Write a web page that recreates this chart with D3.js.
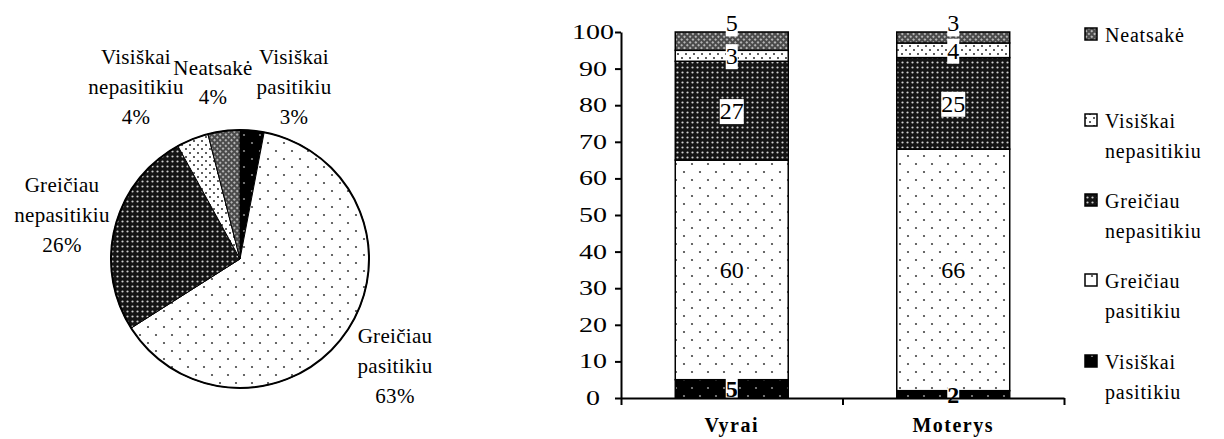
<!DOCTYPE html>
<html>
<head>
<meta charset="utf-8">
<script src="https://cdn.jsdelivr.net/npm/d3@7"></script>
<style>
    body { margin: 0; background: #fff; }
    svg text { font-family: "Liberation Serif", Tinos, "Times New Roman", "DejaVu Serif", serif; }
</style>
</head>
<body>
<div id="chart"></div>
<script>
// answer categories, stacked bottom -> top in the bars
const categories = ['Visiškai pasitikiu', 'Greičiau pasitikiu', 'Greičiau nepasitikiu', 'Visiškai nepasitikiu', 'Neatsakė'];
const pieValues = [3, 63, 26, 4, 4];
const groups = ['Vyrai', 'Moterys'];
const vyraiValues = [5, 60, 27, 3, 5];
const moterysValues = [2, 66, 25, 4, 3];
const yTicks = [0, 10, 20, 30, 40, 50, 60, 70, 80, 90, 100];

const W = 1224, H = 439;
const FONT = '"Liberation Serif", Tinos, "Times New Roman", "DejaVu Serif", serif';
const patternIds = ['pVP', 'pGP', 'pGN', 'pVN', 'pNA'];

// label block placement for the pie (relative to pie centre: x, first baseline)
const pieLabelLayout = [
    { dx: 54, dy: -195 },
    { dx: 155, dy: 84 },
    { dx: -178, dy: -67 },
    { dx: -104, dy: -195 },
    { dx: -27, dy: -184 }
];

const svg = d3.select('#chart').append('svg')
    .attr('width', W)
    .attr('height', H)
    .attr('font-family', FONT);

// ---------- fill patterns ----------
const defs = svg.append('defs');

function dotPattern(id, size, bg, dots, color, r) {
    let p = defs.append('pattern')
        .attr('id', id)
        .attr('patternUnits', 'userSpaceOnUse')
        .attr('width', size)
        .attr('height', size);
    p.append('rect').attr('width', size).attr('height', size).attr('fill', bg);
    dots.forEach(d => {
        p.append('circle').attr('cx', d[0]).attr('cy', d[1]).attr('r', r).attr('fill', color);
    });
    return p;
}

dotPattern('pVP', 16, '#000', [[4, 4], [12, 12]], '#8a8a8a', 1.1);
dotPattern('pGP', 16, '#fff', [[4, 4], [12, 12]], '#444', 1.1);
dotPattern('pGN', 5, '#141414', [[2.5, 2.5]], '#d0d0d0', 1.1);
dotPattern('pVN', 8, '#fff', [[2, 2], [6, 6]], '#2a2a2a', 1.0);
dotPattern('pNA', 4, '#4a4a4a', [[2, 2]], '#cfcfcf', 1.1)
    .attr('patternTransform', 'rotate(45)');

// ---------- pie ----------
const pieCx = 240, pieCy = 259, pieR = 129;
const pie = d3.pie().sort(null).value(d => d.value);
const arc = d3.arc().innerRadius(0).outerRadius(pieR);
const pieData = pie(categories.map((c, i) => ({ name: c, value: pieValues[i], idx: i })));

const pieG = svg.append('g').attr('transform', `translate(${ pieCx }, ${ pieCy })`);

pieG.selectAll('path.slice')
    .data(pieData)
    .enter()
    .append('path')
        .attr('class', 'slice')
        .attr('d', arc)
        .attr('fill', d => `url(#${ patternIds[d.data.idx] })`)
        .attr('stroke', '#000')
        .attr('stroke-width', 1);

pieG.append('circle')
    .attr('r', pieR)
    .attr('fill', 'none')
    .attr('stroke', '#000')
    .attr('stroke-width', 2);

pieData.forEach(d => {
    let lay = pieLabelLayout[d.data.idx];
    let lines = d.data.name.split(' ').concat([d.data.value + '%']);
    let t = pieG.append('text')
        .attr('text-anchor', 'middle')
        .attr('font-size', 21)
        .attr('letter-spacing', 0.3)
        .attr('fill', '#000');
    lines.forEach((line, i) => {
        t.append('tspan')
            .attr('x', lay.dx)
            .attr('y', lay.dy + i * (lines.length === 2 ? 29 : 30))
            .text(line);
    });
});

// ---------- stacked bars ----------
const barLeft = 621, barRight = 1064, barTop = 32, barBottom = 398;

const x = d3.scaleBand()
    .domain(groups)
    .range([barLeft, barRight])
    .paddingInner(0.49)
    .paddingOuter(0.245);

const y = d3.scaleLinear()
    .domain([0, 100])
    .range([barBottom, barTop]);

const table = groups.map((g, gi) => {
    let row = { group: g };
    let vals = gi === 0 ? vyraiValues : moterysValues;
    categories.forEach((c, ci) => { row[c] = vals[ci]; });
    return row;
});

const series = d3.stack().keys(categories)(table);

const barG = svg.append('g');

series.forEach((s, si) => {
    barG.selectAll(null)
        .data(s)
        .enter()
        .append('rect')
            .attr('x', d => x(d.data.group))
            .attr('y', d => y(d[1]))
            .attr('width', x.bandwidth())
            .attr('height', d => y(d[0]) - y(d[1]))
            .attr('fill', `url(#${ patternIds[si] })`)
            .attr('stroke', '#000')
            .attr('stroke-width', 1.5);
});

// segment value labels with white boxes
const lastSeries = series.length - 1;
series.forEach((s, si) => {
    s.forEach(d => {
        let cx = x(d.data.group) + x.bandwidth() / 2;
        let cy = si === lastSeries ? y(d[1]) - 9 : y((d[0] + d[1]) / 2);
        let g = barG.append('g');
        let t = g.append('text')
            .attr('x', cx)
            .attr('y', cy)
            .attr('dy', '0.35em')
            .attr('text-anchor', 'middle')
            .attr('font-size', 24)
            .attr('font-weight', si === 0 ? 'bold' : 'normal')
            .text(d[1] - d[0]);
        let bb = t.node().getBBox();
        g.insert('rect', 'text')
            .attr('x', bb.x)
            .attr('y', bb.y + 1)
            .attr('width', bb.width)
            .attr('height', bb.height - 1)
            .attr('fill', '#fff');
    });
});

// y axis
const yAxis = d3.axisLeft(y)
    .tickValues(yTicks)
    .tickSize(6)
    .tickSizeOuter(0)
    .tickFormat(d => d);

const yAxisG = svg.append('g')
    .attr('transform', `translate(${ barLeft }, 0)`)
    .call(yAxis)
    .attr('font-family', FONT);
yAxisG.select('.domain').attr('stroke-width', 2);
yAxisG.selectAll('.tick line').attr('stroke-width', 2);
yAxisG.selectAll('.tick text')
    .attr('font-size', 20)
    .attr('fill', '#000')
    .attr('text-anchor', 'middle')
    .attr('x', -28)
    .attr('textLength', d => String(d).length * 14)
    .attr('lengthAdjust', 'spacingAndGlyphs');

// x axis: ticks at group boundaries, labels at group centres
const xEdge = d3.scaleLinear().domain([0, groups.length]).range([barLeft, barRight]);
const xAxisG = svg.append('g')
    .attr('transform', `translate(0, ${ barBottom })`)
    .call(d3.axisBottom(xEdge).tickValues(d3.range(groups.length + 1)).tickSize(7).tickSizeOuter(0).tickFormat(''));
xAxisG.select('.domain').attr('stroke-width', 2);
xAxisG.selectAll('.tick line').attr('stroke-width', 2);

svg.append('g')
    .selectAll('text')
    .data(groups)
    .enter()
    .append('text')
        .attr('x', d => x(d) + x.bandwidth() / 2)
        .attr('y', 432)
        .attr('text-anchor', 'middle')
        .attr('font-size', 20)
        .attr('font-weight', 'bold')
        .attr('letter-spacing', 1.5)
        .text(d => d);

// ---------- legend (top item = top of stack) ----------
const legendBaselines = [369, 288, 208, 128, 42];
const legendG = svg.append('g');
categories.forEach((c, i) => {
    let base = legendBaselines[i];
    legendG.append('rect')
        .attr('x', 1085)
        .attr('y', base - 14)
        .attr('width', 12)
        .attr('height', 12)
        .attr('fill', `url(#${ patternIds[i] })`)
        .attr('stroke', '#000')
        .attr('stroke-width', 1.5);
    let t = legendG.append('text')
        .attr('font-size', 20)
        .attr('letter-spacing', 0.8)
        .attr('fill', '#000');
    c.split(' ').forEach((line, li) => {
        t.append('tspan')
            .attr('x', 1105)
            .attr('y', base + li * 30)
            .text(line);
    });
});
</script>
</body>
</html>
